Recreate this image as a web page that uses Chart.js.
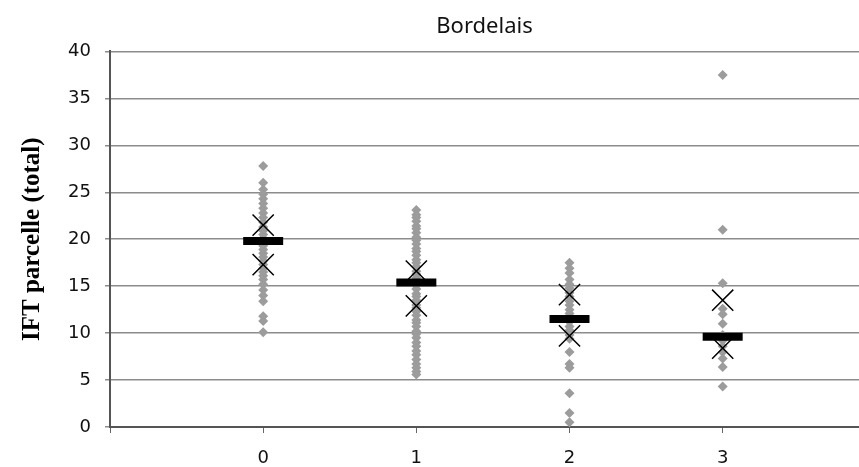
<!DOCTYPE html>
<html lang="fr">
<head>
<meta charset="UTF-8">
<title>Bordelais</title>
<script src="https://cdn.jsdelivr.net/npm/chart.js"></script>
<style>
  body { margin: 0; background: #fff; }
</style>
</head>
<body>
<canvas id="chart" width="859" height="467"></canvas>
<script>
// number of categories on x, and IFT values per parcel
const categories = [0, 1, 2, 3];
const ift0 = [27.8, 26.0, 25.3, 24.8, 24.3, 23.8, 23.3, 22.8, 22.3, 21.8, 21.3, 20.9, 20.5, 20.1,
              19.7, 19.3, 18.9, 18.5, 18.1, 17.7, 17.3, 16.9, 16.5, 16.1, 15.7, 15.2, 14.6, 14.0,
              13.4, 11.8, 11.3, 10.1];
const ift1 = [23.1, 22.6, 22.3, 21.9, 21.4, 21.1, 20.7, 20.2, 19.9, 19.5, 19.0, 18.7, 18.3, 17.8,
              17.5, 17.1, 16.6, 16.3, 15.9, 15.5, 15.1, 14.7, 14.2, 13.9, 13.5, 13.0, 12.7, 12.3,
              11.9, 11.4, 11.1, 10.7, 10.2, 9.9, 9.5, 9.0, 8.6, 8.1, 7.7, 7.2, 6.7, 6.3, 5.9, 5.6];
const ift2 = [17.5, 16.9, 16.4, 15.7, 15.2, 14.8, 14.3, 13.9, 13.4, 13.0, 12.5, 12.1, 11.6, 11.2,
              10.7, 10.3, 9.8, 9.4, 8.0, 6.7, 6.3, 3.6, 1.5, 0.5];
const ift3 = [37.5, 21.0, 15.3, 12.6, 12.0, 11.0, 9.8, 9.2, 8.6, 8.0, 7.3, 6.4, 4.3];

// summary markers: black bar and the two crosses
const medians = [19.8, 15.4, 11.5, 9.6];
const upperX = [21.5, 16.6, 14.1, 13.5];
const lowerX = [17.3, 12.9, 9.7, 8.4];

const xTicks = [-1, 0, 1, 2, 3];

function toPoints(xs, ys) {
    return ys.map((y, i) => ({ x: xs[i], y: y }));
}

const scatterGroups = [ift0, ift1, ift2, ift3];
let cloud = [];
scatterGroups.forEach((vals, i) => {
    vals.forEach(v => cloud.push({ x: categories[i], y: v }));
});

const ctx = document.getElementById('chart').getContext('2d');
new Chart(ctx, {
    type: 'scatter',
    data: {
        datasets: [
            {
                label: 'médiane',
                data: toPoints(categories, medians),
                pointStyle: 'line',
                pointRadius: 20,
                pointHoverRadius: 20,
                borderWidth: 8,
                borderColor: '#000',
                backgroundColor: '#000'
            },
            {
                label: 'haut',
                data: toPoints(categories, upperX),
                pointStyle: 'crossRot',
                pointRadius: 15,
                borderWidth: 1.5,
                borderColor: '#000'
            },
            {
                label: 'bas',
                data: toPoints(categories, lowerX),
                pointStyle: 'crossRot',
                pointRadius: 15,
                borderWidth: 1.5,
                borderColor: '#000'
            },
            {
                label: 'parcelles',
                data: cloud,
                pointStyle: 'rectRot',
                pointRadius: 5,
                borderWidth: 0,
                backgroundColor: '#9c9c9c'
            }
        ]
    },
    options: {
        responsive: false,
        animation: false,
        layout: { padding: 0, autoPadding: false },
        plugins: {
            legend: { display: false },
            tooltip: { enabled: false },
            title: {
                display: true,
                text: 'Bordelais',
                fullSize: false,
                color: '#111',
                font: { family: '"Noto Sans"', size: 22, weight: 'normal' },
                padding: { top: 14, bottom: 11 }
            }
        },
        scales: {
            x: {
                type: 'linear',
                min: -1,
                max: 3.89,
                afterBuildTicks: (scale) => {
                    scale.ticks = xTicks.map(v => ({ value: v }));
                },
                afterFit: (scale) => {
                    scale.height = 40;
                    scale.paddingLeft = 0;
                    scale.paddingRight = 0;
                },
                border: { color: '#555', width: 2 },
                grid: { drawOnChartArea: false, drawTicks: true, tickLength: 6, color: '#666' },
                ticks: {
                    color: '#111',
                    font: { family: '"DejaVu Sans"', size: 18 },
                    padding: 15,
                    maxRotation: 0,
                    callback: (v) => (categories.includes(v) ? String(v) : '')
                }
            },
            y: {
                min: 0,
                max: 40,
                afterFit: (scale) => { scale.width = 110; },
                border: { color: '#555', width: 2 },
                grid: { color: '#8c8c8c', lineWidth: 1.5, tickLength: 5 },
                ticks: {
                    stepSize: 5,
                    color: '#111',
                    font: { family: '"DejaVu Sans"', size: 18 },
                    padding: 14
                },
                title: {
                    display: true,
                    text: 'IFT parcelle (total)',
                    color: '#000',
                    font: { family: '"Liberation Serif"', size: 25, weight: 'bold' },
                    padding: { top: 18, bottom: 0 }
                }
            }
        }
    }
});
</script>
</body>
</html>
